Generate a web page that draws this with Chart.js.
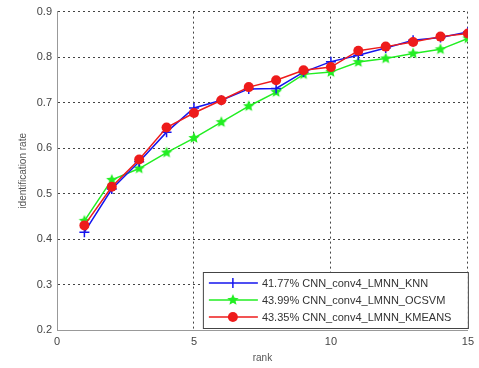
<!DOCTYPE html>
<html>
<head>
<meta charset="utf-8">
<script src="https://cdn.jsdelivr.net/npm/chart.js@4"></script>
<style>
  html, body { margin: 0; padding: 0; background: #fff; }
  #wrap { width: 479px; height: 368px; }
</style>
</head>
<body>
<div id="wrap"><canvas id="rankchart"></canvas></div>
<script>
const ranks = [1, 2, 3, 4, 5, 6, 7, 8, 9, 10, 11, 12, 13, 14, 15];
const knn    = [0.415, 0.51, 0.57, 0.635, 0.688, 0.705, 0.73, 0.731, 0.767, 0.79, 0.804, 0.82, 0.837, 0.843, 0.855];
const ocsvm  = [0.44, 0.53, 0.555, 0.59, 0.622, 0.657, 0.692, 0.723, 0.762, 0.767, 0.789, 0.797, 0.808, 0.817, 0.841];
const kmeans = [0.43, 0.515, 0.575, 0.645, 0.677, 0.705, 0.734, 0.749, 0.771, 0.778, 0.814, 0.823, 0.833, 0.845, 0.852];
const labels = ['41.77% CNN_conv4_LMNN_KNN', '43.99% CNN_conv4_LMNN_OCSVM', '43.35% CNN_conv4_LMNN_KMEANS'];
const xTicks = [0, 5, 10, 15];

// filled five point star, matlab style
function makeStar(r, color) {
  const c = document.createElement('canvas');
  c.width = c.height = r * 2 + 2;
  const g = c.getContext('2d');
  g.fillStyle = color;
  g.beginPath();
  for (let i = 0; i < 10; i++) {
    const rad = i % 2 ? r * 0.45 : r;
    const a = -Math.PI / 2 + i * Math.PI / 5;
    const px = r + 1 + rad * Math.cos(a), py = r + 1 + rad * Math.sin(a);
    i ? g.lineTo(px, py) : g.moveTo(px, py);
  }
  g.closePath();
  g.fill();
  return c;
}
const starImg = makeStar(6, '#22ee22');

const toXY = arr => arr.map((v, i) => ({ x: ranks[i], y: v }));

// legend drawn inside the plot, bottom right
const boxLegend = {
  id: 'boxLegend',
  afterDatasetsDraw(chart) {
    const ctx = chart.ctx, a = chart.chartArea;
    const x0 = a.right - 265, y0 = a.bottom - 58, w = 265, h = 56;
    ctx.save();
    ctx.fillStyle = '#fff';
    ctx.fillRect(x0, y0, w, h);
    ctx.strokeStyle = '#444';
    ctx.lineWidth = 1;
    ctx.strokeRect(x0 + 0.5, y0 + 0.5, w, h);
    ctx.font = '11px "Liberation Sans", Arial, sans-serif';
    ctx.textBaseline = 'middle';
    chart.data.datasets.forEach((ds, i) => {
      const yy = y0 + 11 + i * 17;
      ctx.strokeStyle = ds.borderColor;
      ctx.lineWidth = 1.5;
      ctx.beginPath();
      ctx.moveTo(x0 + 6, yy);
      ctx.lineTo(x0 + 55, yy);
      ctx.stroke();
      const mx = x0 + 30;
      if (i === 0) {
        ctx.beginPath();
        ctx.moveTo(mx, yy - 5); ctx.lineTo(mx, yy + 5);
        ctx.stroke();
      } else if (i === 1) {
        ctx.drawImage(starImg, mx - 7, yy - 7);
      } else {
        ctx.fillStyle = ds.borderColor;
        ctx.beginPath();
        ctx.arc(mx, yy, 5, 0, Math.PI * 2);
        ctx.fill();
      }
      ctx.fillStyle = '#333';
      ctx.fillText(ds.label, x0 + 59, yy + 1);
    });
    ctx.restore();
  }
};

const data = {
  datasets: [{
      label: labels[0],
      data: toXY(knn),
      borderColor: '#1515ee',
      backgroundColor: '#1515ee',
      borderWidth: 1.5,
      pointStyle: 'cross',
      pointRadius: 5,
      pointBorderWidth: 1.5,
      order: 1
    },
    {
      label: labels[1],
      data: toXY(ocsvm),
      borderColor: '#22ee22',
      backgroundColor: '#22ee22',
      borderWidth: 1.5,
      pointStyle: starImg,
      pointRadius: 6,
      order: 2
    },
    {
      label: labels[2],
      data: toXY(kmeans),
      borderColor: '#ee1b1b',
      backgroundColor: '#ee1b1b',
      borderWidth: 1.5,
      pointStyle: 'circle',
      pointRadius: 5,
      pointBorderWidth: 0,
      order: 0
    }
  ]
};

const gridStyle = {
  color: '#444',
  lineWidth: 1,
  drawTicks: false
};

const config = {
  type: 'line',
  data,
  plugins: [boxLegend],
  options: {
    responsive: true,
    maintainAspectRatio: false,
    animation: false,
    layout: {
      padding: { left: 17, right: 11, top: 10, bottom: 0 }
    },
    plugins: {
      legend: { display: false },
      tooltip: { enabled: false }
    },
    scales: {
      x: {
        type: 'linear',
        min: 0,
        max: 15,
        afterBuildTicks: s => { s.ticks = xTicks.map(v => ({ value: v })); },
        afterFit: s => { s.height = 38; },
        grid: gridStyle,
        border: { display: true, color: '#999', width: 1, dash: [2, 3] },
        ticks: { color: '#444', padding: 5, font: { size: 11, family: 'Liberation Sans' } },
        title: { display: true, text: 'rank', color: '#555', padding: { top: 2 }, font: { size: 10, family: 'Liberation Sans' } }
      },
      y: {
        min: 0.2,
        max: 0.9,
        afterFit: s => { s.width = 40; },
        grid: gridStyle,
        border: { display: true, color: '#999', width: 1, dash: [2, 3] },
        ticks: { stepSize: 0.1, color: '#444', padding: 5, font: { size: 11, family: 'Liberation Sans' },
          callback: v => v.toFixed(1) },
        title: { display: true, text: 'identification rate', color: '#555', padding: { top: 0, bottom: 2 }, font: { size: 10, family: 'Liberation Sans' } }
      }
    }
  }
};

const rankChart = new Chart(document.getElementById('rankchart'), config);
</script>
</body>
</html>
